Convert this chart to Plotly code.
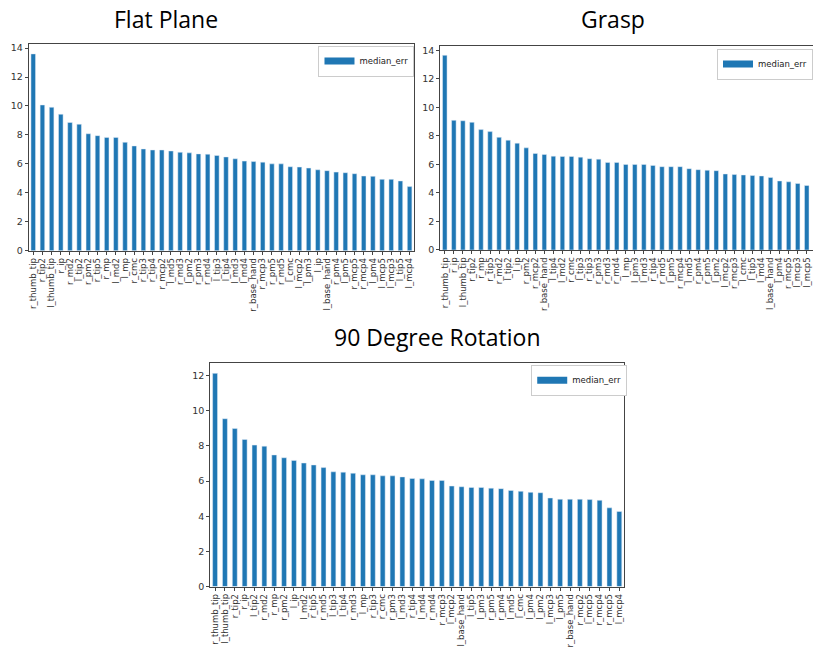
import plotly.graph_objects as go

flat_labels = ["r_thumb_tip","r_tip2","l_thumb_tip","r_ip","r_md2","l_tip2","r_pm2","r_tip5","r_mp","l_md2",
               "l_mp","r_cmc","r_tip3","r_tip4","r_mcp2","l_md5","r_md3","l_pm2","r_pm3","r_md4",
               "l_tip3","l_tip4","l_md3","l_md4","r_base_hand","r_mcp3","r_pm5","r_md5","l_cmc","l_mcp2",
               "l_pm3","l_ip","l_base_hand","r_pm4","l_pm5","r_mcp5","r_mcp4","l_pm4","l_mcp5","l_mcp3",
               "l_tip5","l_mcp4"]
flat_values = [13.60,10.07,9.91,9.43,8.86,8.74,8.08,7.95,7.83,7.83,
               7.49,7.24,7.03,6.96,6.96,6.89,6.80,6.76,6.69,6.67,
               6.58,6.48,6.35,6.19,6.16,6.12,6.00,6.00,5.80,5.78,
               5.71,5.59,5.53,5.43,5.39,5.32,5.16,5.14,4.93,4.93,
               4.82,4.43]

grasp_labels = ["r_thumb_tip","r_ip","l_thumb_tip","r_tip2","r_mp","r_tip5","r_md2","l_tip2","l_ip","r_pm2",
                "r_mcp2","r_base_hand","l_tip4","l_md2","r_cmc","l_tip3","r_tip3","r_pm3","r_md3","r_md4",
                "l_mp","l_pm3","l_md3","r_tip4","r_md5","l_pm5","r_mcp4","l_md5","r_pm4","r_pm5",
                "l_pm2","l_mcp2","r_mcp3","l_cmc","l_tip5","l_md4","l_base_hand","l_pm4","r_mcp5","l_mcp3",
                "l_mcp5","l_mcp4"]
grasp_values = [13.65,9.09,9.06,8.95,8.44,8.30,7.90,7.70,7.49,7.16,
                6.77,6.70,6.58,6.56,6.56,6.51,6.40,6.37,6.14,6.14,
                6.00,6.00,6.00,5.93,5.84,5.84,5.84,5.70,5.63,5.59,
                5.56,5.33,5.29,5.26,5.22,5.19,5.08,4.84,4.78,4.66,
                4.52,4.40]

rot_labels = ["r_thumb_tip","l_thumb_tip","r_tip2","r_ip","l_tip2","r_md2","r_mp","r_pm2","l_ip","l_md2",
              "r_tip5","r_md5","l_tip3","l_tip4","r_md3","l_mp","r_tip3","r_cmc","r_pm3","l_md3",
              "r_tip4","l_md4","r_md4","r_mcp3","l_mcp2","l_base_hand","l_tip5","l_pm3","r_pm5","r_pm4",
              "l_md5","l_cmc","l_pm4","l_pm2","l_mcp3","l_pm5","r_base_hand","r_mcp2","l_mcp5","r_mcp4",
              "r_mcp5","l_mcp4"]
rot_values = [12.13,9.55,8.99,8.37,8.05,7.99,7.49,7.33,7.18,7.03,
              6.92,6.77,6.53,6.51,6.45,6.36,6.36,6.30,6.30,6.24,
              6.15,6.13,6.04,6.04,5.72,5.68,5.64,5.64,5.60,5.57,
              5.47,5.42,5.36,5.34,5.04,4.97,4.97,4.97,4.95,4.91,
              4.48,4.27]

titles = ["Flat Plane", "Grasp", "90 Degree Rotation"]
series_name = "median_err"
BLUE = "#1f77b4"
W, H = 813, 654

panels = [
    (flat_labels, flat_values, "x", "y", "legend"),
    (grasp_labels, grasp_values, "x2", "y2", "legend2"),
    (rot_labels, rot_values, "x3", "y3", "legend3"),
]

fig = go.Figure()
for labels, values, xa, ya, lg in panels:
    fig.add_trace(go.Bar(x=labels, y=values, name=series_name, marker_color=BLUE,
                         xaxis=xa, yaxis=ya, showlegend=False))
    # legend proxy: wide, flat patch like matplotlib's legend handle
    fig.add_trace(go.Scatter(x=[None], y=[None], mode="lines", name=series_name,
                             line=dict(color=BLUE, width=7), xaxis=xa, yaxis=ya,
                             legend=lg, showlegend=True, hoverinfo="skip"))

def px(v):
    return v / W
def py(v):
    return 1 - v / H

tickfont_x = dict(family="DejaVu Sans", size=8.5, color="#333")
tickfont_y = dict(family="DejaVu Sans", size=9.5, color="#333")

def xaxis(dom, labels, rng, anchor):
    return dict(domain=dom, anchor=anchor, type="category", categoryorder="array", categoryarray=labels,
                tickmode="array", tickvals=labels, ticktext=labels, tickangle=-90,
                range=rng, showline=True, mirror=True, linecolor="#444", linewidth=1,
                ticks="outside", ticklen=3, tickcolor="#444", tickfont=tickfont_x,
                showgrid=False, zeroline=False, fixedrange=True)

def yaxis(dom, rng, anchor, dtick, mirror=True):
    return dict(domain=dom, anchor=anchor, range=rng, dtick=dtick, tick0=0,
                showline=True, mirror=mirror, linecolor="#444", linewidth=1,
                ticks="outside", ticklen=3, tickcolor="#444", tickfont=tickfont_y,
                showgrid=False, zeroline=False, fixedrange=True)

legend_common = dict(bgcolor="white", bordercolor="#ccc", borderwidth=1,
                     font=dict(family="DejaVu Sans", size=8.5, color="#222"),
                     itemwidth=30, yanchor="top", xanchor="right")

title_font = dict(family="Open Sans", size=23, color="#000")

fig.update_layout(
    width=W, height=H, margin=dict(l=0, r=0, t=0, b=0),
    paper_bgcolor="white", plot_bgcolor="white",
    bargap=0.5, showlegend=True,
    xaxis=xaxis([px(27.7), px(413.7)], flat_labels, [-0.5, 41.5], "y"),
    yaxis=yaxis([py(252), py(43.3)], [0, 14.29], "x", 2),
    xaxis2=xaxis([px(439.8), 1.0], grasp_labels, [-0.5, 40.69], "y2"),
    yaxis2=yaxis([py(251.3), py(45)], [0, 14.33], "x2", 2, mirror=False),
    xaxis3=xaxis([px(209.4), px(624)], rot_labels, [-0.5, 41.5], "y3"),
    yaxis3=yaxis([py(591), py(365)], [0, 12.74], "x3", 2),
    legend=dict(x=px(414), y=py(45), **legend_common),
    legend2=dict(x=1.0, y=py(48), **legend_common),
    legend3=dict(x=px(627), y=py(367), **legend_common),
    annotations=[
        dict(text=titles[0], x=px(165), y=py(18), xref="paper", yref="paper", showarrow=False,
             font=title_font, xanchor="center", yanchor="middle"),
        dict(text=titles[1], x=px(613), y=py(18), xref="paper", yref="paper", showarrow=False,
             font=title_font, xanchor="center", yanchor="middle"),
        dict(text=titles[2], x=px(437), y=py(339), xref="paper", yref="paper", showarrow=False,
             font=title_font, xanchor="center", yanchor="middle"),
    ],
)

fig.write_html("out.html", config={"displayModeBar": False},
               post_script="document.body.style.margin='0';")
